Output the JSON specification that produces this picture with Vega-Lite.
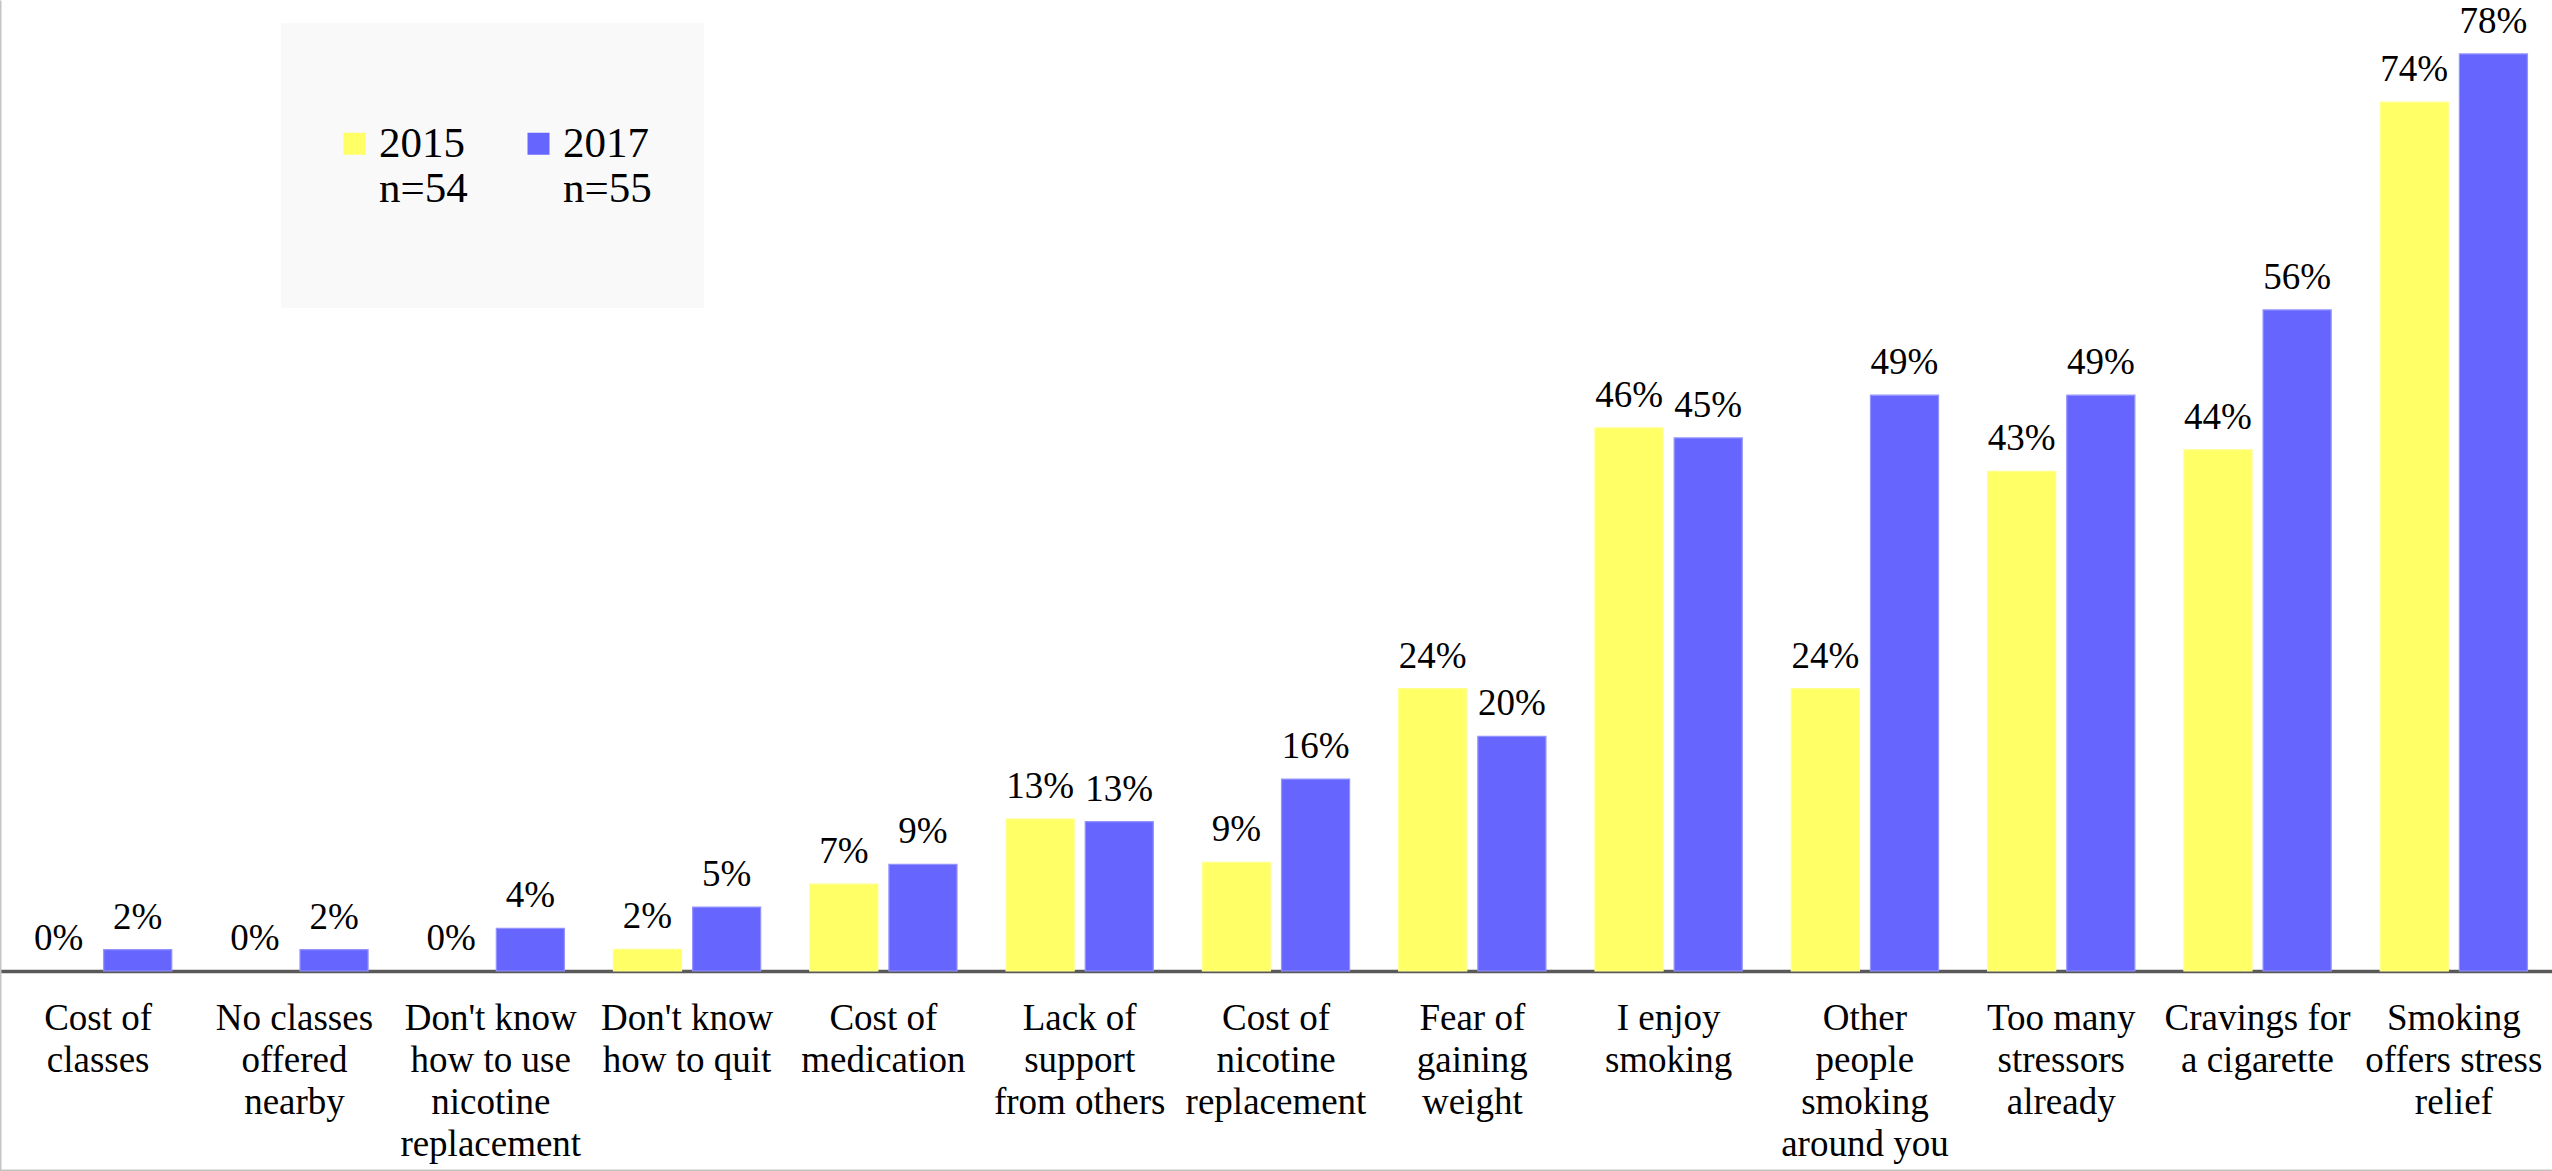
{
  "$schema": "https://vega.github.io/schema/vega-lite/v6.json",
  "width": 2552,
  "height": 1171,
  "autosize": {"type": "none"},
  "padding": 0,
  "background": "#ffffff",
  "config": {
    "font": "Liberation Serif",
    "view": {"stroke": null},
    "axis": {"labelFont": "Liberation Serif", "titleFont": "Liberation Serif"},
    "legend": {"labelFont": "Liberation Serif", "titleFont": "Liberation Serif"}
  },
  "data": {
    "values": [
      {"reason": "Cost of classes", "year": "2015", "value": 0},
      {"reason": "Cost of classes", "year": "2017", "value": 0.0182},
      {"reason": "No classes offered nearby", "year": "2015", "value": 0},
      {"reason": "No classes offered nearby", "year": "2017", "value": 0.0182},
      {"reason": "Don't know how to use nicotine replacement", "year": "2015", "value": 0},
      {"reason": "Don't know how to use nicotine replacement", "year": "2017", "value": 0.0364},
      {"reason": "Don't know how to quit", "year": "2015", "value": 0.0185},
      {"reason": "Don't know how to quit", "year": "2017", "value": 0.0545},
      {"reason": "Cost of medication", "year": "2015", "value": 0.0741},
      {"reason": "Cost of medication", "year": "2017", "value": 0.0909},
      {"reason": "Lack of support from others", "year": "2015", "value": 0.1296},
      {"reason": "Lack of support from others", "year": "2017", "value": 0.1273},
      {"reason": "Cost of nicotine replacement", "year": "2015", "value": 0.0926},
      {"reason": "Cost of nicotine replacement", "year": "2017", "value": 0.1636},
      {"reason": "Fear of gaining weight", "year": "2015", "value": 0.2407},
      {"reason": "Fear of gaining weight", "year": "2017", "value": 0.2},
      {"reason": "I enjoy smoking", "year": "2015", "value": 0.463},
      {"reason": "I enjoy smoking", "year": "2017", "value": 0.4545},
      {"reason": "Other people smoking around you", "year": "2015", "value": 0.2407},
      {"reason": "Other people smoking around you", "year": "2017", "value": 0.4909},
      {"reason": "Too many stressors already", "year": "2015", "value": 0.4259},
      {"reason": "Too many stressors already", "year": "2017", "value": 0.4909},
      {"reason": "Cravings for a cigarette", "year": "2015", "value": 0.4444},
      {"reason": "Cravings for a cigarette", "year": "2017", "value": 0.5636},
      {"reason": "Smoking offers stress relief", "year": "2015", "value": 0.7407},
      {"reason": "Smoking offers stress relief", "year": "2017", "value": 0.7818}
    ]
  },
  "resolve": {"axis": {"x": "independent"}},
  "layer": [
    {
      "mark": {"type": "bar", "strokeWidth": 1.2},
      "encoding": {
        "x": {
          "field": "reason", "type": "nominal", "sort": null,
          "scale": {"paddingInner": 0.25, "paddingOuter": 0.125},
          "axis": {
            "orient": "bottom", "offset": -200, "title": null,
            "domain": true, "domainColor": "#595959", "domainWidth": 3.5,
            "ticks": false, "tickSize": 0, "grid": false,
            "labelAngle": 0, "labelFontSize": 37, "labelLineHeight": 42,
            "labelColor": "#000000", "labelBaseline": "top", "labelPadding": 29,
            "labelLimit": 400,
            "labelExpr": "({'Cost of classes': ['Cost of','classes'], 'No classes offered nearby': ['No classes','offered','nearby'], \"Don't know how to use nicotine replacement\": [\"Don't know\",'how to use','nicotine','replacement'], \"Don't know how to quit\": [\"Don't know\",'how to quit'], 'Cost of medication': ['Cost of','medication'], 'Lack of support from others': ['Lack of','support','from others'], 'Cost of nicotine replacement': ['Cost of','nicotine','replacement'], 'Fear of gaining weight': ['Fear of','gaining','weight'], 'I enjoy smoking': ['I enjoy','smoking'], 'Other people smoking around you': ['Other','people','smoking','around you'], 'Too many stressors already': ['Too many','stressors','already'], 'Cravings for a cigarette': ['Cravings for','a cigarette'], 'Smoking offers stress relief': ['Smoking','offers stress','relief']})[datum.label]"
          }
        },
        "xOffset": {
          "field": "year", "type": "nominal",
          "scale": {"paddingInner": 0.14, "paddingOuter": 0}
        },
        "y": {
          "field": "value", "type": "quantitative",
          "scale": {"domain": [-0.1705, 0.8278], "nice": false, "zero": false},
          "axis": {
            "orient": "left", "title": null, "labels": false, "ticks": false,
            "grid": false, "domain": true, "domainColor": "#c4c4c4", "domainWidth": 2
          }
        },
        "stroke": {
          "field": "year", "type": "nominal",
          "scale": {"domain": ["2015", "2017"], "range": ["#ffff8c", "#9393ff"]},
          "legend": null
        },
        "strokeOpacity": {
          "condition": {"test": "datum.value > 0", "value": 1},
          "value": 0
        },
        "color": {
          "field": "year", "type": "nominal",
          "scale": {"domain": ["2015", "2017"], "range": ["#ffff66", "#6666ff"]},
          "legend": {
            "orient": "none", "legendX": 281, "legendY": 23,
            "direction": "horizontal", "columns": 2,
            "fillColor": "#f9f9f9", "padding": 52,
            "symbolType": "square", "symbolSize": 484, "symbolStrokeWidth": 0,
            "labelFontSize": 43, "labelOffset": 3,
            "labelBaseline": "middle", "labelColor": "#000000",
            "columnPadding": 49,
            "labelExpr": "datum.label == '2015' ? ['2015', 'n=54', ''] : ['2017', 'n=55', '']",
            "title": " ", "titleOrient": "top", "titleFontSize": 34, "titlePadding": 13
          }
        }
      }
    },
    {
      "mark": {"type": "text", "baseline": "alphabetic", "dy": -21, "fontSize": 37, "fill": "#000000", "font": "Times New Roman"},
      "encoding": {
        "x": {
          "field": "reason", "type": "nominal", "sort": null,
          "axis": {
            "orient": "bottom", "offset": -1, "title": null, "labels": false,
            "ticks": false, "grid": false, "domain": true,
            "domainColor": "#c4c4c4", "domainWidth": 2
          }
        },
        "xOffset": {"field": "year", "type": "nominal"},
        "y": {"field": "value", "type": "quantitative"},
        "text": {"field": "value", "type": "quantitative", "format": ".0%"}
      }
    }
  ]
}
